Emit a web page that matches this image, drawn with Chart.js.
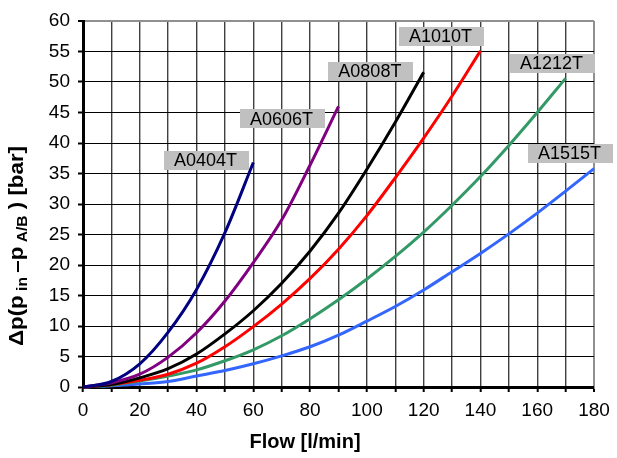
<!DOCTYPE html>
<html lang="en">
  <head>
    <meta charset="UTF-8" />
    <title>Flow vs pressure drop</title>
    <script src="https://cdn.jsdelivr.net/npm/chart.js"></script>
    <style>
      html, body { margin: 0; padding: 0; background: #fff; }
      canvas { display: block; }
    </style>
  </head>
  <body>
    <canvas id="flowChart" width="617" height="458"></canvas>
    <script>
      // flow values (l/min), one point every 10
      const flow = [0, 10, 20, 30, 40, 50, 60, 70, 80, 90, 100, 110, 120, 130, 140, 150, 160, 170, 180];

      // pressure drop (bar) per valve
      const a0404 = [0, 0.9, 3.8, 9.0, 16.0, 25.3, 36.8];
      const a0606 = [0, 0.7, 2.1, 4.9, 8.9, 14.1, 20.4, 27.4, 36.4, 46.0];
      const a0808 = [0, 0.4, 1.5, 3.0, 5.4, 8.7, 12.5, 17.0, 22.3, 28.5, 35.7, 43.4, 51.6];
      const a1010 = [0, 0.4, 1.1, 2.1, 3.9, 6.6, 9.9, 13.6, 17.8, 22.6, 28.1, 34.3, 40.8, 47.7, 55.1];
      const a1212 = [0, 0.3, 1.0, 1.8, 2.8, 4.3, 6.1, 8.4, 11.2, 14.3, 17.7, 21.4, 25.4, 29.8, 34.5, 39.6, 45.0, 50.6];
      const a1515 = [0, 0.2, 0.5, 0.9, 1.8, 2.7, 3.8, 5.1, 6.6, 8.5, 10.8, 13.2, 15.9, 18.9, 21.9, 25.1, 28.5, 32.1, 35.8];

      const seriesNames = ["A0404T", "A0606T", "A0808T", "A1010T", "A1212T", "A1515T"];
      const seriesValues = [a0404, a0606, a0808, a1010, a1212, a1515];
      const seriesColors = ["#000080", "#800080", "#000000", "#ff0000", "#339966", "#3366ff"];

      // where each name tag sits, in data units (centre of the grey box)
      const tagAnchors = [
        [43.5, 37.2],
        [70.3, 44.0],
        [101.4, 51.8],
        [126.3, 57.5],
        [165.4, 53.1],
        [171.7, 38.3],
      ];

      const xTicks = [0, 20, 40, 60, 80, 100, 120, 140, 160, 180];
      const yTicks = [0, 5, 10, 15, 20, 25, 30, 35, 40, 45, 50, 55, 60];

      const FONT = "'Liberation Sans', Arial, Helvetica, sans-serif";
      Chart.defaults.font.family = FONT;
      Chart.defaults.color = "#000";

      const datasets = seriesNames.map((name, i) => ({
        label: name,
        data: seriesValues[i].map((v, j) => ({ x: flow[j], y: v })),
        borderColor: seriesColors[i],
        borderWidth: 3,
        pointRadius: 0,
        cubicInterpolationMode: "monotone",
        fill: false,
        clip: false,
      }));

      // grey name tags on top of the lines
      const tagPlugin = {
        id: "tags",
        afterDatasetsDraw(chart) {
          const { ctx, scales } = chart;
          ctx.save();
          ctx.font = "18px " + FONT;
          ctx.textAlign = "center";
          ctx.textBaseline = "middle";
          seriesNames.forEach((name, i) => {
            const cx = scales.x.getPixelForValue(tagAnchors[i][0]);
            const cy = scales.y.getPixelForValue(tagAnchors[i][1]);
            ctx.fillStyle = "#c0c0c0";
            ctx.fillRect(Math.round(cx - 42.5), Math.round(cy - 9.5), 85, 19);
            ctx.fillStyle = "#000";
            ctx.fillText(name, cx - 1, cy + 1);
          });
          ctx.restore();
        },
      };

      // axis titles (the y one needs subscripts)
      const titlePlugin = {
        id: "titles",
        afterDraw(chart) {
          const { ctx } = chart;
          ctx.save();
          ctx.fillStyle = "#000";
          ctx.textBaseline = "alphabetic";
          ctx.font = "bold 20px " + FONT;
          ctx.textAlign = "center";
          ctx.fillText("Flow [l/min]", 305, 448);

          const big = "bold 20px " + FONT;
          const small = "bold 14px " + FONT;
          const parts = [
            ["\u0394p(p", big, 0],
            [" in ", small, 4],
            ["\u2013p", big, 0],
            [" A/B", small, 4],
            [" ) [bar]", big, 0],
          ];
          let total = 0;
          parts.forEach((p) => {
            ctx.font = p[1];
            total += ctx.measureText(p[0]).width;
          });
          ctx.translate(23, 246);
          ctx.rotate(-Math.PI / 2);
          ctx.scale(200 / total, 1);
          ctx.textAlign = "left";
          let x = -total / 2;
          parts.forEach((p) => {
            ctx.font = p[1];
            ctx.fillText(p[0], x, p[2]);
            x += ctx.measureText(p[0]).width;
          });
          ctx.restore();
        },
      };

      new Chart(document.getElementById("flowChart"), {
        type: "line",
        data: { datasets },
        options: {
          responsive: false,
          animation: false,
          devicePixelRatio: 1,
          layout: { padding: { top: 21, right: 23, left: 0, bottom: 0 } },
          plugins: {
            legend: { display: false },
            tooltip: { enabled: false },
          },
          scales: {
            x: {
              type: "linear",
              min: 0,
              max: 180,
              afterFit: (scale) => { scale.height = 71; },
              ticks: {
                stepSize: 10,
                maxRotation: 0,
                autoSkip: false,
                padding: 7,
                font: { size: 19 },
                callback: (v) => (xTicks.includes(v) ? String(v) : ""),
              },
              grid: {
                color: (c) => (c.tick && c.tick.value === 180 ? "#909090" : "#404040"),
                lineWidth: (c) => (c.tick && c.tick.value === 180 ? 2 : 1.4),
                drawTicks: true,
                tickLength: 5,
                tickColor: "#000",
                tickWidth: 2,
              },
              border: { display: true, color: "#000", width: 3 },
            },
            y: {
              min: 0,
              max: 60,
              afterFit: (scale) => { scale.width = 83; },
              ticks: {
                stepSize: 5,
                padding: 8,
                font: { size: 19 },
                callback: (v) => (yTicks.includes(v) ? String(v) : ""),
              },
              grid: {
                color: (c) => (c.tick && c.tick.value === 60 ? "#909090" : "#000"),
                lineWidth: (c) => (c.tick && c.tick.value === 60 ? 2 : 1),
                drawTicks: true,
                tickLength: 5,
                tickColor: "#000",
                tickWidth: 2,
              },
              border: { display: true, color: "#000", width: 3 },
            },
          },
        },
        plugins: [tagPlugin, titlePlugin],
      });
    </script>
  </body>
</html>
